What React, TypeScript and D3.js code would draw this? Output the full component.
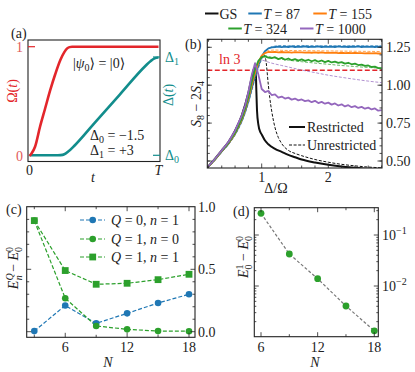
import * as d3 from "d3";

const FONT = "Liberation Serif, DejaVu Serif, serif";

// ---- panel (a): protocol ----
const tOmega = [0, 0.017, 0.043, 0.082, 0.12, 0.16, 0.2, 0.24, 0.27, 0.29, 0.31, 0.33, 1.0];
const omegaVals = [0, 0.025, 0.085, 0.27, 0.43, 0.6, 0.75, 0.88, 0.95, 0.982, 0.996, 1.0, 1.0];
const tDelta = [0, 0.2, 0.24, 0.27, 0.3, 0.35, 0.5, 0.7, 0.9, 0.94, 0.97, 1.0];
const deltaVals = [-1.5, -1.5, -1.49, -1.45, -1.33, -1.05, -0.05, 1.28, 2.6, 2.82, 2.94, 2.98];

// ---- panel (b): S8 - 2S4 vs Delta/Omega ----
const deltaGrid = [0.18, 0.3, 0.4, 0.5, 0.6, 0.7, 0.75, 0.8, 0.85, 0.9, 0.95,
  1.0, 1.05, 1.1, 1.15, 1.2, 1.25, 1.3, 1.35, 1.4, 1.45, 1.5, 1.55, 1.6, 1.65, 1.7, 1.75, 1.8, 1.85, 1.9, 1.95,
  2.0, 2.05, 2.1, 2.15, 2.2, 2.25, 2.3, 2.35, 2.4, 2.45, 2.5, 2.55, 2.6, 2.65, 2.7, 2.75, 2.8];
const t87 = [0.455, 0.51, 0.563, 0.613, 0.678, 0.765, 0.825, 0.895, 0.98, 1.06, 1.13,
  1.19, 1.225, 1.243, 1.25, 1.252, 1.255, 1.251, 1.254, 1.252, 1.256, 1.252, 1.255, 1.253, 1.256, 1.252, 1.255, 1.253, 1.256, 1.252, 1.255,
  1.253, 1.255, 1.252, 1.256, 1.253, 1.255, 1.252, 1.255, 1.253, 1.256, 1.252, 1.255, 1.253, 1.255, 1.252, 1.254, 1.253];
const t155 = [0.455, 0.511, 0.565, 0.616, 0.682, 0.772, 0.835, 0.91, 1.0, 1.08, 1.15,
  1.195, 1.212, 1.219, 1.218, 1.22, 1.217, 1.219, 1.216, 1.218, 1.215, 1.218, 1.216, 1.217, 1.215, 1.217, 1.214, 1.216, 1.214, 1.216, 1.213,
  1.215, 1.213, 1.215, 1.212, 1.214, 1.212, 1.213, 1.211, 1.213, 1.211, 1.212, 1.21, 1.212, 1.21, 1.211, 1.209, 1.21];
const t324 = [0.455, 0.512, 0.566, 0.618, 0.686, 0.78, 0.845, 0.925, 1.02, 1.105, 1.16,
  1.185, 1.19, 1.182, 1.178, 1.185, 1.172, 1.18, 1.168, 1.176, 1.165, 1.172, 1.162, 1.17, 1.16, 1.168, 1.158, 1.165, 1.155, 1.163, 1.152,
  1.16, 1.15, 1.156, 1.147, 1.152, 1.142, 1.148, 1.138, 1.142, 1.133, 1.136, 1.127, 1.13, 1.12, 1.122, 1.113, 1.112];
const t1000 = [0.455, 0.515, 0.57, 0.625, 0.7, 0.8, 0.865, 0.955, 1.065, 1.145, 1.07,
  0.975, 0.955, 0.962, 0.935, 0.94, 0.918, 0.925, 0.912, 0.918, 0.905, 0.912, 0.9, 0.906, 0.895, 0.9, 0.888, 0.897, 0.882, 0.89, 0.878,
  0.885, 0.872, 0.88, 0.866, 0.874, 0.86, 0.868, 0.855, 0.862, 0.85, 0.857, 0.845, 0.852, 0.84, 0.847, 0.832, 0.835];

const dashGrid = [0.18, 0.3, 0.4, 0.5, 0.6, 0.7, 0.8, 0.85, 0.9, 0.95, 1.0, 1.05, 1.1, 1.2, 1.3, 1.4, 1.6, 1.8, 2.0, 2.2, 2.4, 2.6, 2.8];
const t87u = [0.452, 0.505, 0.557, 0.607, 0.67, 0.755, 0.88, 0.96, 1.04, 1.11, 1.17, 1.215, 1.24, 1.258, 1.262, 1.26, 1.262, 1.26, 1.261, 1.26, 1.261, 1.26, 1.26];
const t155u = [0.452, 0.506, 0.559, 0.61, 0.674, 0.762, 0.89, 0.97, 1.05, 1.12, 1.18, 1.215, 1.228, 1.232, 1.23, 1.229, 1.228, 1.227, 1.226, 1.225, 1.224, 1.223, 1.222];
const t324u = [0.452, 0.507, 0.561, 0.612, 0.678, 0.768, 0.9, 0.985, 1.07, 1.14, 1.185, 1.195, 1.19, 1.18, 1.172, 1.165, 1.155, 1.146, 1.138, 1.13, 1.123, 1.117, 1.112];
const t1000u = [0.452, 0.508, 0.563, 0.615, 0.682, 0.775, 0.91, 1.0, 1.08, 1.14, 1.165, 1.16, 1.152, 1.14, 1.13, 1.12, 1.1, 1.083, 1.066, 1.052, 1.039, 1.027, 1.017];

const gsGrid = [0.18, 0.3, 0.4, 0.5, 0.6, 0.7, 0.8, 0.85, 0.88, 0.9, 0.91, 0.92, 0.93, 0.95, 0.98, 1.0, 1.05, 1.1, 1.2, 1.3, 1.4, 1.5, 1.6, 1.8, 2.0, 2.2, 2.4, 2.6, 2.8];
const gsRestricted = [0.455, 0.515, 0.57, 0.625, 0.7, 0.8, 0.95, 1.05, 1.1, 1.12, 1.1, 0.96, 0.83, 0.74, 0.69, 0.675, 0.635, 0.61, 0.58, 0.56, 0.54, 0.525, 0.51, 0.49, 0.475, 0.463, 0.455, 0.448, 0.443];
const gsuGrid = [0.18, 0.3, 0.4, 0.5, 0.6, 0.7, 0.8, 0.85, 0.9, 0.95, 1.0, 1.03, 1.06, 1.1, 1.12, 1.15, 1.2, 1.25, 1.3, 1.4, 1.5, 1.6, 1.8, 2.0, 2.2, 2.4, 2.6, 2.8];
const gsUnrestricted = [0.452, 0.508, 0.562, 0.612, 0.68, 0.77, 0.9, 0.98, 1.06, 1.14, 1.19, 1.2, 1.17, 1.0, 0.92, 0.83, 0.72, 0.655, 0.615, 0.57, 0.55, 0.535, 0.51, 0.492, 0.478, 0.468, 0.46, 0.455];

// ---- panel (c): gaps vs N ----
const nValues = [3, 6, 9, 12, 15, 18];
const q0n1 = [0.005, 0.21, 0.067, 0.147, 0.23, 0.3];
const q1n0 = [0.89, 0.268, 0.046, 0.019, 0.005, 0.004];
const q1n1 = [0.89, 0.49, 0.38, 0.388, 0.417, 0.46];

// ---- panel (d): log gap ----
const nValuesD = [6, 9, 12, 15, 18];
const gapD = [0.266, 0.0424, 0.0139, 0.00405, 0.00132];

const RED = "#e3262b";
const TEAL = "#128d8c";
const BLUE = "#1f77b4";
const ORANGE = "#ff7f0e";
const GREEN = "#2ca02c";
const PURPLE = "#9467bd";

const zip = (xs: number[], ys: number[]) => xs.map((x, i) => [x, ys[i]] as [number, number]);

function Frame({ x0, x1, y0, y1 }: { x0: number; x1: number; y0: number; y1: number }) {
  return <rect x={x0} y={y0} width={x1 - x0} height={y1 - y0} fill="none" stroke="#222" strokeWidth={1.1} />;
}

function XTicks({ xs, y0, y1, len }: { xs: number[]; y0: number; y1: number; len: number }) {
  return (
    <g stroke="#222" strokeWidth={0.8}>
      {xs.map((x, i) => (
        <g key={i}>
          <line x1={x} x2={x} y1={y1} y2={y1 - len} />
          <line x1={x} x2={x} y1={y0} y2={y0 + len} />
        </g>
      ))}
    </g>
  );
}

function YTicks({ ys, x0, x1, len }: { ys: number[]; x0: number; x1: number; len: number }) {
  return (
    <g stroke="#222" strokeWidth={0.8}>
      {ys.map((y, i) => (
        <g key={i}>
          <line x1={x0} x2={x0 + len} y1={y} y2={y} />
          <line x1={x1} x2={x1 - len} y1={y} y2={y} />
        </g>
      ))}
    </g>
  );
}

export default function App() {
  // (a)
  const A = { x0: 28, x1: 160, y0: 40, y1: 161.5 };
  const xA = d3.scaleLinear().domain([0, 1]).range([29.5, 158.5]);
  const yOmega = d3.scaleLinear().domain([0, 1]).range([156, 46.7]);
  const yDelta = d3.scaleLinear().domain([-1.5, 3]).range([155.3, 57]);
  const lineOmega = d3.line<[number, number]>().x(d => xA(d[0])).y(d => yOmega(d[1])).curve(d3.curveMonotoneX);
  const lineDelta = d3.line<[number, number]>().x(d => xA(d[0])).y(d => yDelta(d[1])).curve(d3.curveMonotoneX);

  // (b)
  const B = { x0: 207.3, x1: 382, y0: 39.3, y1: 168 };
  const xB = d3.scaleLinear().domain([1, 2]).range([261.7, 328.3]);
  const yB = d3.scaleLinear().domain([0.5, 1.25]).range([161, 47.3]);
  const smoothB = d3.line<[number, number]>().x(d => xB(d[0])).y(d => yB(d[1])).curve(d3.curveMonotoneX);
  const rawB = d3.line<[number, number]>().x(d => xB(d[0])).y(d => yB(d[1]));
  const xMinorB = d3.range(0.2, 2.81, 0.2).filter(v => Math.abs(v - 1) > 0.01 && Math.abs(v - 2) > 0.01);
  const yMinorB = d3.range(0.45, 1.301, 0.05);

  const dashedSeries = [
    { ys: t87u, color: BLUE },
    { ys: t155u, color: ORANGE },
    { ys: t324u, color: GREEN },
    { ys: t1000u, color: PURPLE },
  ];
  const solidSeries = [
    { ys: t87, color: BLUE },
    { ys: t155, color: ORANGE },
    { ys: t324, color: GREEN },
    { ys: t1000, color: PURPLE },
  ];

  // (c)
  const C = { x0: 26.7, x1: 195, y0: 206.7, y1: 337.3 };
  const xC = d3.scaleLinear().domain([3, 18]).range([34.3, 189]);
  const yC = d3.scaleLinear().domain([0, 1]).range([331.7, 206.9]);
  const lineC = d3.line<[number, number]>().x(d => xC(d[0])).y(d => yC(d[1]));

  // (d)
  const D = { x0: 254.3, x1: 378.3, y0: 207.7, y1: 336.7 };
  const xD = d3.scaleLinear().domain([6, 18]).range([261, 374.3]);
  const yD = d3.scaleLog().domain([0.01, 0.1]).range([286, 235]);
  const lineD = d3.line<[number, number]>().x(d => xD(d[0])).y(d => yD(d[1]));
  const logMinor: number[] = [];
  [0.001, 0.01, 0.1].forEach(dec => {
    for (let k = 2; k <= 9; k++) {
      const v = dec * k;
      if (v > 0.001 && v < 0.34) logMinor.push(v);
    }
  });

  const fs = 14;
  const sub = 10;

  return (
    <svg width={415} height={372} style={{ position: "absolute", left: 0, top: 0, fontFamily: FONT }}>
      <rect width={415} height={372} fill="#fff" />

      {/* ================= (a) ================= */}
      <path d={lineDelta(zip(tDelta, deltaVals)) || ""} fill="none" stroke={TEAL} strokeWidth={2.6} />
      <path d={lineOmega(zip(tOmega, omegaVals)) || ""} fill="none" stroke={RED} strokeWidth={2.6} />
      <Frame {...A} />
      <line x1={A.x0} x2={A.x0 + 7} y1={yOmega(1)} y2={yOmega(1)} stroke={RED} strokeWidth={1.2} />
      <line x1={A.x1 - 7} x2={A.x1} y1={yDelta(3)} y2={yDelta(3)} stroke={TEAL} strokeWidth={1.2} />
      <line x1={A.x1 - 7} x2={A.x1} y1={yDelta(-1.5)} y2={yDelta(-1.5)} stroke={TEAL} strokeWidth={1.2} />
      <text x={23} y={yOmega(1) + 5} fontSize={fs} fill="#e05a5a" textAnchor="end">1</text>
      <text x={23} y={yOmega(0) + 5} fontSize={fs} fill="#e05a5a" textAnchor="end">0</text>
      <text x={165} y={yDelta(3) + 5} fontSize={fs} fill={TEAL}>Δ<tspan fontSize={sub} dy={3}>1</tspan></text>
      <text x={165} y={yDelta(-1.5) + 5} fontSize={fs} fill={TEAL}>Δ<tspan fontSize={sub} dy={3}>0</tspan></text>
      <text x={xA(0)} y={175} fontSize={fs} textAnchor="middle" fill="#222">0</text>
      <text x={xA(1)} y={175} fontSize={fs} textAnchor="middle" fill="#222" fontStyle="italic">T</text>
      <text x={93} y={182} fontSize={fs} textAnchor="middle" fill="#222" fontStyle="italic">t</text>
      <text x={11} y={38} fontSize={fs} fill="#222">(a)</text>
      <text transform={`translate(17,91) rotate(-90)`} fontSize={fs} fill={RED} textAnchor="middle">
        Ω(<tspan fontStyle="italic">t</tspan>)
      </text>
      <text transform={`translate(173,95) rotate(-90)`} fontSize={fs} fill={TEAL} textAnchor="middle">
        Δ(<tspan fontStyle="italic">t</tspan>)
      </text>
      <text x={73} y={68} fontSize={fs} fill="#222">
        |<tspan fontStyle="italic">ψ</tspan><tspan fontSize={sub} dy={3}>0</tspan><tspan dy={-3}>⟩ = |0⟩</tspan>
      </text>
      <text x={90} y={140} fontSize={fs} fill="#222">
        Δ<tspan fontSize={sub} dy={3}>0</tspan><tspan dy={-3}> = −1.5</tspan>
      </text>
      <text x={90} y={155} fontSize={fs} fill="#222">
        Δ<tspan fontSize={sub} dy={3}>1</tspan><tspan dy={-3}> = +3</tspan>
      </text>

      {/* ================= (b) ================= */}
      <defs>
        <clipPath id="clipB">
          <rect x={B.x0} y={B.y0} width={B.x1 - B.x0} height={B.y1 - B.y0} />
        </clipPath>
      </defs>
      <g clipPath="url(#clipB)">
        <line x1={B.x0} x2={B.x1} y1={yB(Math.log(3))} y2={yB(Math.log(3))} stroke={RED} strokeWidth={1.3} strokeDasharray="5,2.5" />
        <path d={smoothB(zip(gsuGrid, gsUnrestricted)) || ""} fill="none" stroke="#111" strokeWidth={1} strokeDasharray="3,1.6" />
        <path d={smoothB(zip(gsGrid, gsRestricted)) || ""} fill="none" stroke="#111" strokeWidth={2} />
        {dashedSeries.map((s, i) => (
          <path key={i} d={smoothB(zip(dashGrid, s.ys)) || ""} fill="none" stroke={s.color} strokeOpacity={0.8} strokeWidth={0.9} strokeDasharray="3,1.6" />
        ))}
        {solidSeries.map((s, i) => (
          <path key={i} d={rawB(zip(deltaGrid, s.ys)) || ""} fill="none" stroke={s.color} strokeWidth={1.8} strokeLinejoin="round" />
        ))}
      </g>
      <Frame {...B} />
      <XTicks xs={xMinorB.map(v => xB(v))} y0={B.y0} y1={B.y1} len={2.5} />
      <XTicks xs={[1, 2].map(v => xB(v))} y0={B.y0} y1={B.y1} len={4.5} />
      <YTicks ys={yMinorB.map(v => yB(v)).filter(y => y > B.y0 && y < B.y1)} x0={B.x0} x1={B.x1} len={2.5} />
      <YTicks ys={[0.5, 0.75, 1.0, 1.25].map(v => yB(v))} x0={B.x0} x1={B.x1} len={4.5} />
      {[0.5, 0.75, 1.0, 1.25].map(v => (
        <text key={v} x={386} y={yB(v) + 5} fontSize={fs} fill="#222">{v.toFixed(2)}</text>
      ))}
      {[1, 2].map(v => (
        <text key={v} x={xB(v)} y={182} fontSize={fs} fill="#222" textAnchor="middle">{v}</text>
      ))}
      <text x={276} y={193} fontSize={fs} fill="#222" textAnchor="middle">Δ/Ω</text>
      <text x={219} y={64} fontSize={fs} fill={RED}>ln 3</text>
      <text x={185} y={49} fontSize={fs} fill="#222">(b)</text>
      <text transform={`translate(201,104) rotate(-90)`} fontSize={fs} fill="#222" textAnchor="middle">
        <tspan fontStyle="italic">S</tspan><tspan fontSize={sub} dy={3}>8</tspan><tspan dy={-3}> − 2</tspan><tspan fontStyle="italic">S</tspan><tspan fontSize={sub} dy={3}>4</tspan>
      </text>
      {/* inner legend */}
      <line x1={289} x2={305} y1={127} y2={127} stroke="#111" strokeWidth={2} />
      <text x={307} y={132} fontSize={fs} fill="#222">Restricted</text>
      <line x1={289} x2={305} y1={145} y2={145} stroke="#111" strokeWidth={1} strokeDasharray="3,1.6" />
      <text x={307} y={150} fontSize={fs} fill="#222">Unrestricted</text>
      {/* top legend */}
      {[
        { x: 205, y: 13.5, color: "#111", label: "GS" },
        { x: 248.3, y: 13.5, color: BLUE, label: "87" },
        { x: 313.3, y: 13.5, color: ORANGE, label: "155" },
        { x: 228.3, y: 28.5, color: GREEN, label: "324" },
        { x: 300, y: 28.5, color: PURPLE, label: "1000" },
      ].map((l, i) => (
        <g key={i}>
          <line x1={l.x} x2={l.x + 13.5} y1={l.y} y2={l.y} stroke={l.color} strokeWidth={2} />
          {l.label === "GS" ? (
            <text x={l.x + 14.5} y={l.y + 5} fontSize={fs} fill="#222">GS</text>
          ) : (
            <text x={l.x + 15} y={l.y + 5} fontSize={fs} fill="#222">
              <tspan fontStyle="italic">T</tspan> = {l.label}
            </text>
          )}
        </g>
      ))}

      {/* ================= (c) ================= */}
      <path d={lineC(zip(nValues, q0n1)) || ""} fill="none" stroke={BLUE} strokeWidth={1.2} strokeDasharray="4,2" />
      <path d={lineC(zip(nValues, q1n0)) || ""} fill="none" stroke={GREEN} strokeWidth={1.2} strokeDasharray="4,2" />
      <path d={lineC(zip(nValues, q1n1)) || ""} fill="none" stroke={GREEN} strokeWidth={1.2} strokeDasharray="4,2" />
      {nValues.map((n, i) => (
        <g key={i}>
          <circle cx={xC(n)} cy={yC(q0n1[i])} r={3.3} fill={BLUE} />
          <circle cx={xC(n)} cy={yC(q1n0[i])} r={3.3} fill={GREEN} />
          <rect x={xC(n) - 3.4} y={yC(q1n1[i]) - 3.4} width={6.8} height={6.8} fill={GREEN} />
        </g>
      ))}
      <Frame {...C} />
      <XTicks xs={[3, 9, 15].map(v => xC(v))} y0={C.y0} y1={C.y1} len={2.5} />
      <XTicks xs={[6, 12, 18].map(v => xC(v))} y0={C.y0} y1={C.y1} len={4.5} />
      <YTicks ys={[0.1, 0.2, 0.3, 0.4, 0.6, 0.7, 0.8, 0.9].map(v => yC(v))} x0={C.x0} x1={C.x1} len={2.5} />
      <YTicks ys={[0, 0.5].map(v => yC(v))} x0={C.x0} x1={C.x1} len={4.5} />
      {[0, 0.5, 1].map(v => (
        <text key={v} x={198} y={yC(v) + 5} fontSize={fs} fill="#222">{v.toFixed(1)}</text>
      ))}
      {[6, 12, 18].map(v => (
        <text key={v} x={xC(v)} y={352} fontSize={fs} fill="#222" textAnchor="middle">{v}</text>
      ))}
      <text x={108} y={367} fontSize={fs} fill="#222" textAnchor="middle" fontStyle="italic">N</text>
      <text x={6} y={214} fontSize={fs} fill="#222">(c)</text>
      <text transform={`translate(18,268) rotate(-90)`} fontSize={fs} fill="#222" textAnchor="middle">
        <tspan fontStyle="italic">E</tspan><tspan fontSize={sub} dy={-5} fontStyle="italic">Q</tspan><tspan fontSize={sub} dx={-7} dy={9} fontStyle="italic">n</tspan><tspan dy={-4}> − </tspan><tspan fontStyle="italic">E</tspan><tspan fontSize={sub} dy={-5}>0</tspan><tspan fontSize={sub} dx={-5} dy={9}>0</tspan>
      </text>
      {[
        { y: 220, color: BLUE, sq: false, q: "0", n: "1" },
        { y: 239, color: GREEN, sq: false, q: "1", n: "0" },
        { y: 257, color: GREEN, sq: true, q: "1", n: "1" },
      ].map((l, i) => (
        <g key={i}>
          <line x1={80} x2={105} y1={l.y} y2={l.y} stroke={l.color} strokeWidth={1.2} strokeDasharray="4,2" />
          {l.sq ? (
            <rect x={92.7 - 3.4} y={l.y - 3.4} width={6.8} height={6.8} fill={l.color} />
          ) : (
            <circle cx={92.7} cy={l.y} r={3.3} fill={l.color} />
          )}
          <text x={111} y={l.y + 5} fontSize={fs} fill="#222">
            <tspan fontStyle="italic">Q</tspan> = {l.q}, <tspan fontStyle="italic">n</tspan> = {l.n}
          </text>
        </g>
      ))}

      {/* ================= (d) ================= */}
      <path d={lineD(zip(nValuesD, gapD)) || ""} fill="none" stroke="#777" strokeWidth={1.2} strokeDasharray="3,2" />
      {nValuesD.map((n, i) => (
        <circle key={i} cx={xD(n)} cy={yD(gapD[i])} r={3.4} fill={GREEN} />
      ))}
      <Frame {...D} />
      <XTicks xs={[9, 15].map(v => xD(v))} y0={D.y0} y1={D.y1} len={2.5} />
      <XTicks xs={[6, 12, 18].map(v => xD(v))} y0={D.y0} y1={D.y1} len={4.5} />
      <YTicks ys={logMinor.map(v => yD(v))} x0={D.x0} x1={D.x1} len={2} />
      <YTicks ys={[0.01, 0.1].map(v => yD(v))} x0={D.x0} x1={D.x1} len={4.5} />
      {[
        { v: 0.1, e: "−1" },
        { v: 0.01, e: "−2" },
      ].map(t => (
        <text key={t.e} x={382} y={yD(t.v) + 5} fontSize={fs} fill="#222">
          10<tspan fontSize={sub} dy={-6}>{t.e}</tspan>
        </text>
      ))}
      {[6, 12, 18].map(v => (
        <text key={v} x={xD(v)} y={352} fontSize={fs} fill="#222" textAnchor="middle">{v}</text>
      ))}
      <text x={315} y={367} fontSize={fs} fill="#222" textAnchor="middle" fontStyle="italic">N</text>
      <text x={233} y={216} fontSize={fs} fill="#222">(d)</text>
      <text transform={`translate(248,257) rotate(-90)`} fontSize={fs} fill="#222" textAnchor="middle">
        <tspan fontStyle="italic">E</tspan><tspan fontSize={sub} dy={-5}>1</tspan><tspan fontSize={sub} dx={-5} dy={9}>0</tspan><tspan dy={-4}> − </tspan><tspan fontStyle="italic">E</tspan><tspan fontSize={sub} dy={-5}>0</tspan><tspan fontSize={sub} dx={-5} dy={9}>0</tspan>
      </text>
    </svg>
  );
}
